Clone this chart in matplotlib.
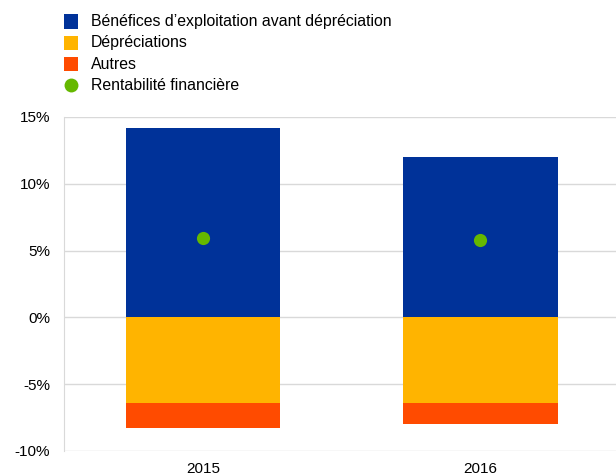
import matplotlib
matplotlib.use("Agg")
import matplotlib.pyplot as plt
from matplotlib.patches import Rectangle
from matplotlib.lines import Line2D
import numpy as np

plt.rcParams["font.family"] = ["Liberation Sans", "DejaVu Sans"]

years = ["2015", "2016"]
operating_profit = [14.2, 12.0]     # Bénéfices d'exploitation avant dépréciation
impairments = [-6.4, -6.4]          # Dépréciations
other = [-1.85, -1.6]               # Autres
roe = [5.95, 5.8]                   # Rentabilité financière

labels = ["Bénéfices d\u2019exploitation avant dépréciation", "Dépréciations",
          "Autres", "Rentabilité financière"]
colors = ["#003299", "#FFB400", "#FF4B00", "#65B800"]

yticks = [-10, -5, 0, 5, 10, 15]

fig = plt.figure(figsize=(6.16, 4.75), dpi=100)
ax = fig.add_axes([64 / 616, 24 / 475, 552 / 616, 334 / 475])

x = np.arange(len(years))
w = 0.555
ax.bar(x, operating_profit, w, color=colors[0], zorder=2)
ax.bar(x, impairments, w, color=colors[1], zorder=2)
ax.bar(x, other, w, bottom=impairments, color=colors[2], zorder=2)
ax.scatter(x, roe, s=90, color=colors[3], zorder=3, linewidths=0)

ax.set_xlim(-0.5, 1.488)
ax.set_ylim(-10, 15)
ax.set_yticks(yticks)
ax.set_yticklabels([f"{t}%" for t in yticks])
ax.set_xticks(x)
ax.set_xticklabels(years)
ax.grid(axis="y", color="#d9d9d9", linewidth=1, zorder=0)
for s in ["top", "right", "bottom"]:
    ax.spines[s].set_visible(False)
ax.spines["left"].set_color("#d9d9d9")
ax.tick_params(axis="both", length=0, labelsize=11, colors="black")
ax.tick_params(axis="y", pad=10)
ax.tick_params(axis="x", pad=8)

# legend drawn in figure pixel coordinates
row_y = [21.5, 43, 64.3, 85.5]
for i, (lab, c) in enumerate(zip(labels, colors)):
    yc = 1 - row_y[i] / 475
    if i < 3:
        fig.add_artist(Rectangle((64 / 616, yc - 7 / 475), 14 / 616, 14 / 475,
                                 transform=fig.transFigure, color=c, linewidth=0))
    else:
        fig.add_artist(Line2D([71 / 616], [yc], marker="o", markersize=10,
                              color=c, markeredgewidth=0, transform=fig.transFigure))
    fig.text(91 / 616, yc, lab, fontsize=11.4, va="center", ha="left")

fig.savefig("out.png", dpi=100)
